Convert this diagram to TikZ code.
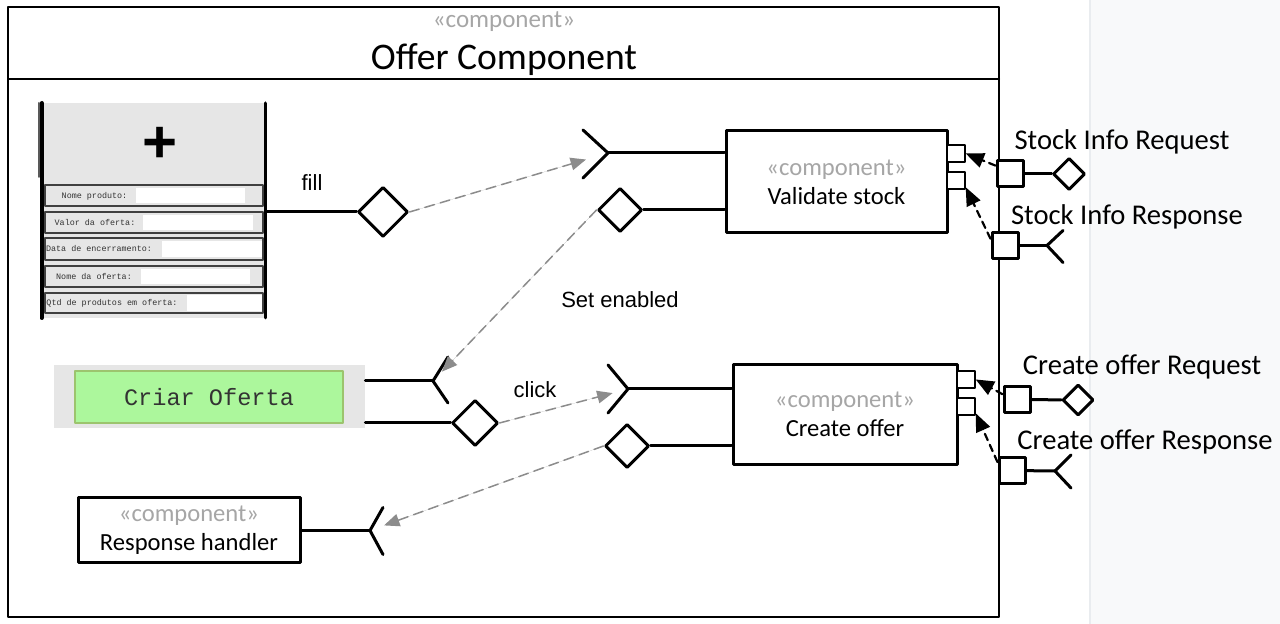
\documentclass[tikz,border=0pt]{standalone}
\usepackage{fontspec}
\usepackage{xcolor}
\usepackage{tikz}
\usetikzlibrary{arrows,shapes.geometric}
\newfontfamily\calibrif{Carlito}
\newfontfamily\arialf{Liberation Sans}
\newfontfamily\courierf{Liberation Mono}
\definecolor{stereogray}{HTML}{A6A6A6}
\definecolor{formgray}{HTML}{E6E6E6}
\definecolor{btngreen}{HTML}{ACF79C}
\definecolor{btnborder}{HTML}{9CC46E}
\definecolor{panelgray}{HTML}{F8F9FA}
\definecolor{panelline}{HTML}{E9ECEF}
\definecolor{dashgray}{HTML}{8C8C8C}

\begin{document}
\begin{tikzpicture}[line cap=round,line join=round,>=triangle 45,x=0.5pt,y=-0.5pt,
	comp/.style={draw,line width=1.5pt,fill=white,align=center,inner sep=0pt,font=\calibrif\fontsize{12.3}{14.5}\selectfont},
	port/.style={draw,line width=1.5pt,fill=white,minimum size=13pt,inner sep=0pt},
	subport/.style={draw,line width=0.75pt,fill=white,minimum width=9pt,minimum height=8.5pt,inner sep=0pt},
	provided/.style={diamond,draw,line width=1.5pt,fill=white,inner sep=0pt},
	wire/.style={line width=1.5pt},
	flow/.style={->,draw=dashgray,fill=dashgray,line width=0.75pt,dash pattern=on 5pt off 3pt},
	deleg/.style={->,black,line width=1.1pt,dash pattern=on 3.5pt off 2.5pt},
	lbl/.style={font=\arialf\fontsize{11}{13}\selectfont},
	iflbl/.style={font=\calibrif\fontsize{14.3}{16}\selectfont},
	formlbl/.style={font=\courierf\fontsize{4.2}{5}\selectfont,text=black!80}]
		\useasboundingbox (0,0) rectangle (1280,624);
		\fill[white] (0,0) rectangle (1090,624);
		\fill[panelgray] (1090,0) rectangle (1280,624);
		\draw[panelline,line width=0.75pt] (1090,0) -- (1090,624);
		% outer component
		\draw[line width=1pt] (8,7) rectangle (999,617);
		\draw[line width=1pt] (8,79) -- (999,79);
		\node[font=\calibrif\fontsize{12.5}{14}\selectfont,text=stereogray] (stereo) at (504,22) {«component»};
		\node[font=\calibrif\fontsize{18.8}{22}\selectfont] (title) at (504,60) {Offer Component};
		% form
		\node[fill=formgray,minimum width=111pt,minimum height=107.5pt,inner sep=0pt] (form) at (154,210.5) {};
		\draw[line width=1pt,black!65] (38.5,103) -- (38.5,177);
		\draw[line width=2pt] (41.5,103) -- (41.5,318);
		\draw[line width=1.5pt] (265,103) -- (265,318);
		\node[font=\arialf\bfseries\fontsize{30}{30}\selectfont] (plus) at (160,145) {+};
		\draw[line width=0.75pt,draw=black!75,fill=formgray] (45,185) rectangle (263,206);
		\fill[white] (136,188) rectangle (245,203);
		\node[formlbl] (nomeprod) at (94.5,196) {Nome produto:};
		\draw[line width=0.75pt,draw=black!75,fill=formgray] (45,212) rectangle (263,233);
		\fill[white] (143,215) rectangle (253,230);
		\node[formlbl] (valor) at (95,222.5) {Valor da oferta:};
		\draw[line width=0.75pt,draw=black!75,fill=formgray] (45,238) rectangle (263,260);
		\fill[white] (162,241) rectangle (262,257);
		\node[formlbl] (data) at (99,249) {Data de encerramento:};
		\draw[line width=0.75pt,draw=black!75,fill=formgray] (45,266) rectangle (263,287);
		\fill[white] (141,269) rectangle (250,284);
		\node[formlbl] (nomeof) at (94,276.5) {Nome da oferta:};
		\draw[line width=0.75pt,draw=black!75,fill=formgray] (45,293) rectangle (263,313);
		\fill[white] (187,295) rectangle (262,311);
		\node[formlbl] (qtd) at (112,303) {Qtd de produtos em oferta:};
		% button
		\node[fill=formgray,minimum width=155.5pt,minimum height=31.5pt,inner sep=0pt] (button) at (209.5,396.5) {};
		\node[draw=btnborder,line width=0.75pt,fill=btngreen,minimum width=134pt,minimum height=26pt,inner sep=0pt,font=\courierf\fontsize{11.8}{14}\selectfont,text=black!80] (criar) at (209,397) {Criar Oferta};
		% inner components
		\node[comp,minimum width=110.5pt,minimum height=51pt] (validate) at (836.5,182) {\textcolor{stereogray}{«component»}\\Validate stock};
		\node[comp,minimum width=112pt,minimum height=50pt] (create) at (845,414.5) {\textcolor{stereogray}{«component»}\\Create offer};
		\node[comp,minimum width=111pt,minimum height=32.5pt] (handler) at (189,530.5) {\textcolor{stereogray}{«component»}\\Response handler};
		\node[subport] (vp1) at (956,153.5) {};
		\node[subport] (vp2) at (956,180.5) {};
		\node[subport] (cp1) at (966,379.5) {};
		\node[subport] (cp2) at (966,406.5) {};
		% fill
		\node[provided,minimum size=25pt] (fillD) at (383,212) {};
		\draw[wire] (fillD) -- (fillD -| form.east);
		\node[lbl] (fillLbl) at (312,183) {fill};
		% validate stock interfaces
		\coordinate (vsIn) at (608,153);
		\draw[wire] (vsIn) -- (vsIn -| validate.west);
		\draw[wire] (vsIn) ++(-25,-23) -- (vsIn) -- ++(-25,25);
		\node[provided,minimum size=22pt] (vsD) at (620,210) {};
		\draw[wire] (vsD) -- (vsD -| validate.west);
		\node[lbl] (enLbl) at (620,300) {Set enabled};
		% button interfaces
		\coordinate (enS) at (433,381);
		\draw[wire] (enS) -- (enS -| button.east);
		\draw[wire] (enS) ++(15,-24) -- (enS) -- ++(15,22);
		\node[provided,minimum size=23pt] (clickD) at (475,423) {};
		\draw[wire] (clickD) -- (clickD -| button.east);
		\node[lbl] (clickLbl) at (535,390) {click};
		% create offer interfaces
		\coordinate (coS) at (628,389);
		\draw[wire] (coS) -- (coS -| create.west);
		\draw[wire] (coS) ++(-20,-24) -- (coS) -- ++(-20,24);
		\node[provided,minimum size=22pt] (coD) at (627,446) {};
		\draw[wire] (coD) -- (coD -| create.west);
		% response handler interface
		\coordinate (rhS) at (370,530.5);
		\draw[wire] (handler.east) -- (rhS);
		\draw[wire] (rhS) ++(13,-23) -- (rhS) -- ++(13,24);
		% outside ports
		\node[port] (sirPort) at (1010,174) {};
		\node[provided,minimum size=16pt] (sirD) at (1069,174) {};
		\draw[wire] (sirPort) -- (sirD);
		\node[iflbl] (sirLbl) at (1122,142) {Stock Info Request};
		\node[port] (srsPort) at (1005,245.5) {};
		\coordinate (srsS) at (1047,245.5);
		\draw[wire] (srsPort) -- (srsS);
		\draw[wire] (srsS) ++(16,-15) -- (srsS) -- ++(16,17);
		\node[iflbl] (srsLbl) at (1127,217) {Stock Info Response};
		\node[port] (corPort) at (1017,399.5) {};
		\node[provided,minimum size=15.5pt] (corD) at (1078,400) {};
		\draw[wire] (corPort) -- (corD);
		\node[iflbl] (corLbl) at (1142,367) {Create offer Request};
		\node[port] (cresPort) at (1012,470.5) {};
		\coordinate (cresS) at (1055,471);
		\draw[wire] (cresPort) -- (cresS);
		\draw[wire] (cresS) ++(16,-16) -- (cresS) -- ++(16,17);
		\node[iflbl] (cresLbl) at (1145,442) {Create offer Response};
		% dependencies
		\draw[flow,shorten >=11.5pt] (fillD.east) -- (vsIn);
		\draw[flow,shorten >=6.5pt] (vsD.west) -- (enS);
		\draw[flow,shorten >=8pt] (clickD.east) -- (coS);
		\draw[flow,shorten >=7.5pt] (coD.west) -- (rhS);
		\draw[deleg] (sirPort.150) -- (vp1.east);
		\draw[deleg] (srsPort.155) -- (vp2.-35);
		\draw[deleg] (corPort.160) -- (cp1.east);
		\draw[deleg] (cresPort.150) -- (cp2.-35);
	\end{tikzpicture}
\end{document}
